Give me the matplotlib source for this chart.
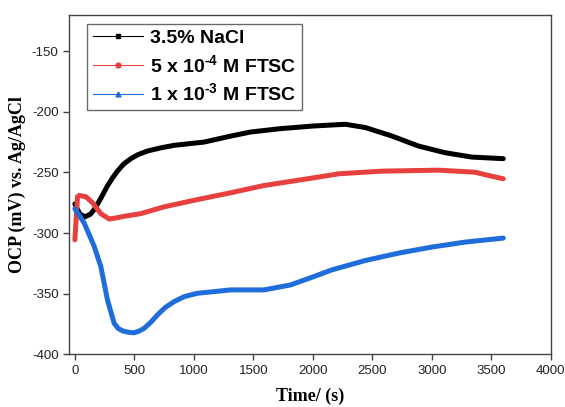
import matplotlib
matplotlib.use("Agg")
import matplotlib.pyplot as plt
from matplotlib.lines import Line2D

plt.rcParams["axes.unicode_minus"] = False
plt.rcParams["mathtext.fontset"] = "custom"
plt.rcParams["mathtext.rm"] = "Liberation Sans:bold"
plt.rcParams["mathtext.bf"] = "Liberation Sans:bold"
plt.rcParams["mathtext.it"] = "Liberation Sans:bold"

# OCP vs time
t_nacl = [0, 40, 84, 130, 162, 220, 274, 320, 357, 410, 470, 530, 610, 720,
          833, 1085, 1308, 1476, 1728, 2008, 2273, 2441, 2664, 2888, 3112,
          3336, 3600]
ocp_nacl = [-276, -284, -286.7, -284.5, -280.7, -271, -261, -254, -249, -243,
            -238.6, -235.3, -232.3, -229.7, -227.6, -224.9, -220, -216.6,
            -213.8, -211.6, -210.2, -212.9, -219.9, -228.2, -233.7, -237.3,
            -238.6]

t_5e4 = [0, 22, 36, 92, 148, 218, 288, 350, 414, 554, 749, 1029, 1308, 1588,
         2008, 2217, 2580, 3056, 3364, 3476, 3600]
ocp_5e4 = [-305.6, -270, -269, -270, -275, -284, -288.4, -287.5, -286.2, -284,
           -278.4, -272.4, -266.8, -260.8, -254.4, -251.1, -248.9, -248.1,
           -249.8, -252.5, -255.2]

t_1e3 = [0, 78, 162, 218, 274, 330, 365, 400, 450, 497, 540, 581, 640, 693,
         760, 833, 920, 1029, 1308, 1588, 1812, 2008, 2161, 2441, 2721, 3000,
         3280, 3600]
ocp_1e3 = [-280, -291.7, -311, -327.7, -355.3, -374.6, -378.9, -380.8, -382,
           -382.4, -381, -378.8, -373.5, -367.7, -361.5, -356.7, -352.5,
           -349.8, -347, -347, -342.9, -336, -330.4, -322.7, -316.6, -311.6,
           -307.5, -304.2]

labels = ["3.5% NaCl", r"5 x 10$^{\text{-4}}$ M FTSC", r"1 x 10$^{\text{-3}}$ M FTSC"]
colors = ["#000000", "#e8403f", "#1f6ddb"]
markers = ["s", "o", "^"]

fig = plt.figure(figsize=(5.65, 4.07), dpi=100)
ax = fig.add_axes([0.122, 0.130, 0.853, 0.833])

for t, v, c in zip([t_nacl, t_5e4, t_1e3], [ocp_nacl, ocp_5e4, ocp_1e3], colors):
    ax.plot(t, v, color=c, linewidth=3.6, solid_capstyle="round",
            solid_joinstyle="round")

ax.set_xlim(-50, 4000)
ax.set_ylim(-400, -120)
ax.set_xticks(range(0, 4001, 500))
ax.set_yticks(range(-400, -149, 50))

for s in ax.spines.values():
    s.set_color("#444444")
    s.set_linewidth(1.0)
ax.tick_params(direction="out", length=4, width=1, color="#444444",
               labelsize=9.5, labelcolor="#222222")
for lab in ax.get_xticklabels() + ax.get_yticklabels():
    lab.set_family("Liberation Sans")

ax.set_xlabel("Time/ (s)", family="Liberation Serif", fontweight="bold",
              fontsize=13, labelpad=8)
ax.set_ylabel("OCP (mV) vs. Ag/AgCl", family="Liberation Serif",
              fontweight="bold", fontsize=13, labelpad=4)

handles = [Line2D([], [], color=c, linewidth=0.8, marker=m, markersize=3.5)
           for c, m in zip(colors, markers)]
leg = ax.legend(handles, labels, loc="upper left", bbox_to_anchor=(0.037, 0.975),
                borderaxespad=0, frameon=True, fancybox=False, handlelength=2.6,
                handletextpad=0.35, labelspacing=0.35, borderpad=0.3,
                prop={"family": "Liberation Sans", "weight": "bold", "size": 14})
leg.get_frame().set_edgecolor("#444444")
leg.get_frame().set_linewidth(1.0)

fig.savefig("out.png", dpi=100)
